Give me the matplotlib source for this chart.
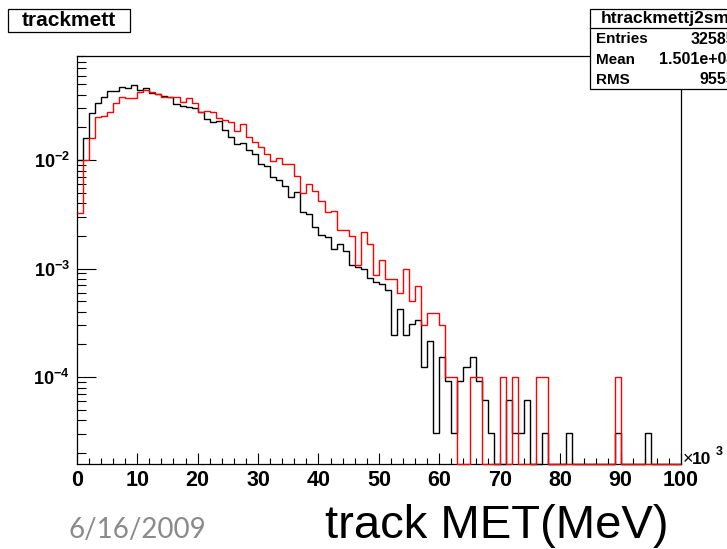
import numpy as np
import matplotlib
matplotlib.use("Agg")
import matplotlib.pyplot as plt
from matplotlib.patches import Rectangle
from matplotlib.lines import Line2D
from matplotlib.ticker import FixedLocator, LogLocator, NullFormatter

plt.rcParams['font.family'] = ['Liberation Sans', 'DejaVu Sans']
plt.rcParams['mathtext.fontset'] = 'custom'
plt.rcParams['mathtext.rm'] = 'Liberation Sans:bold'
plt.rcParams['mathtext.bf'] = 'Liberation Sans:bold'
plt.rcParams['mathtext.it'] = 'Liberation Sans:bold:italic'

# 100 bins of 1 GeV, track MET in MeV
bin_edges = np.arange(101) * 1000.0

# normalised entries (black = htrackmettj2sm)
black_vals = [
    0.0100, 0.0161, 0.0273, 0.0338, 0.0378, 0.0436, 0.0436, 0.0474, 0.0464, 0.0491,
    0.0442, 0.0464, 0.0418, 0.0406, 0.0392, 0.0378, 0.0328, 0.0315, 0.0310, 0.0304,
    0.0275, 0.0240, 0.0226, 0.0229, 0.0189, 0.0164, 0.0141, 0.0143, 0.0124, 0.0114,
    0.00919, 0.00881, 0.00702, 0.00654, 0.00580, 0.00459, 0.00511, 0.00334, 0.00318, 0.00239,
    0.00204, 0.00194, 0.00150, 0.00168, 0.00146, 0.00108, 0.00104, 0.00099, 0.00082, 0.00075,
    0.00072, 0.00064, 0.000245, 0.00042, 0.000245, 0.000307, 0.000338, 0.000123, 0.000215, 3.07e-5,
    0.000153, 9.2e-5, 3.07e-5, 9.2e-5, 0.000123, 0.000153, 9.2e-5, 6.14e-5, 3.07e-5, 0,
    0, 6.14e-5, 3.07e-5, 3.07e-5, 6.14e-5, 0, 0, 3.07e-5, 0, 0,
    0, 3.07e-5, 0, 0, 0, 0, 0, 0, 0, 3.07e-5,
    0, 0, 0, 0, 3.07e-5, 0, 0, 0, 0, 0,
]
red_vals = [
    0.00327, 0.0100, 0.0161, 0.0247, 0.0254, 0.0279, 0.0338, 0.0384, 0.0375, 0.0375,
    0.0421, 0.0442, 0.0421, 0.0406, 0.0378, 0.0378, 0.0378, 0.0345, 0.0370, 0.0338,
    0.0275, 0.0285, 0.0275, 0.0242, 0.0234, 0.0223, 0.0187, 0.0213, 0.0164, 0.0148,
    0.0133, 0.0114, 0.00986, 0.0104, 0.00919, 0.00919, 0.00712, 0.00500, 0.00597, 0.00522,
    0.00419, 0.00329, 0.00339, 0.00226, 0.00226, 0.00199, 0.00108, 0.00219, 0.00167, 0.00088,
    0.00120, 0.00080, 0.00080, 0.00059, 0.00100, 0.00050, 0.00069, 0.00030, 0.00039, 0.00039,
    0.00030, 0.0001, 0.0001, 0, 0, 0.0001, 0.0001, 0, 0, 0,
    0.0001, 0, 0.0001, 0, 0, 0, 0.0001, 0.0001, 0, 0,
    0, 0, 0, 0, 0, 0, 0, 0, 0, 0.0001,
    0, 0, 0, 0, 0, 0, 0, 0, 0, 0,
]

ymin, ymax = 1.57e-5, 0.0903
W, H = 727, 549


def fx(x):
    return x / W


def fy(y):
    return 1 - y / H


fig = plt.figure(figsize=(W / 100, H / 100), dpi=100)
ax = fig.add_axes([fx(76.8), fy(464.3), fx(681) - fx(76.8), fy(56.3) - fy(464.3)])

# empty bins sit on the bottom of the frame, like ROOT draws them
ax.stairs(np.maximum(black_vals, ymin), bin_edges, baseline=None,
          color='black', lw=1.0, clip_on=False, zorder=3)
ax.stairs(np.maximum(red_vals, ymin), bin_edges, baseline=None,
          color='#ff0000', lw=1.0, clip_on=False, zorder=4)

ax.set_yscale('log')
ax.set_xlim(0, 100000)
ax.set_ylim(ymin, ymax)

ax.xaxis.set_major_locator(FixedLocator(np.arange(0, 100001, 10000)))
ax.xaxis.set_minor_locator(FixedLocator(np.arange(0, 100001, 2000)))
ax.set_xticklabels([str(v) for v in range(0, 101, 10)])
ax.yaxis.set_major_locator(FixedLocator([1e-4, 1e-3, 1e-2]))
ax.set_yticklabels([r'$10^{-4}$', r'$10^{-3}$', r'$10^{-2}$'])
ax.yaxis.set_minor_locator(LogLocator(base=10, subs=np.arange(2, 10)))
ax.yaxis.set_minor_formatter(NullFormatter())

ax.tick_params(axis='x', which='major', direction='in', length=8, width=0.8,
               pad=4, labelsize=15.5)
ax.tick_params(axis='x', which='minor', direction='in', length=4, width=0.8)
ax.tick_params(axis='y', which='major', direction='in', length=13.5, width=0.8,
               pad=5, labelsize=13)
ax.tick_params(axis='y', which='minor', direction='in', length=6.8, width=0.8)
for lab in ax.get_xticklabels():
    lab.set_fontweight('bold')
for s in ax.spines.values():
    s.set_linewidth(0.9)

fig.text(fx(682.5), fy(464), '×', fontsize=13, va='baseline')
fig.text(fx(692), fy(464), '10', fontsize=12.5, fontweight='bold', va='baseline')
fig.text(fx(715.5), fy(455), '3', fontsize=9, fontweight='bold', va='baseline')

# title box
fig.patches.append(Rectangle((fx(8), fy(32)), fx(130) - fx(8), fy(9) - fy(32),
                             transform=fig.transFigure, facecolor='white',
                             edgecolor='black', lw=0.9))
fig.text(fx(69), fy(20.5), 'trackmett', fontsize=15, fontweight='bold',
         ha='center', va='center')

# stats box
fig.patches.append(Rectangle((fx(590), fy(89)), fx(770) - fx(590), fy(9) - fy(89),
                             transform=fig.transFigure, facecolor='white',
                             edgecolor='black', lw=0.9, zorder=5))
fig.lines.append(Line2D([fx(590), fx(770)], [fy(28), fy(28)],
                        transform=fig.transFigure, color='black', lw=0.9, zorder=6))
fig.text(fx(601), fy(18.5), 'htrackmettj2sm', fontsize=12.5, fontweight='bold',
         va='center', zorder=7)
stat_names = ['Entries', 'Mean', 'RMS']
stat_values = ['32585', '1.501e+04', '9555']
for i, (n, v) in enumerate(zip(stat_names, stat_values)):
    yy = fy(39 + 20.5 * i)
    fig.text(fx(596), yy, n, fontsize=11, fontweight='bold', va='center', zorder=7)
    fig.text(fx(735), yy, v, fontsize=11.5, fontweight='bold', va='center',
             ha='right', zorder=7)

fig.text(fx(325), fy(538), 'track MET(MeV)', fontsize=34, va='baseline')
fig.text(fx(68), fy(538), '6/16/2009', fontsize=20, family='Lato',
         color='#8a8a8a', va='baseline')

fig.savefig('out.png', dpi=100)
